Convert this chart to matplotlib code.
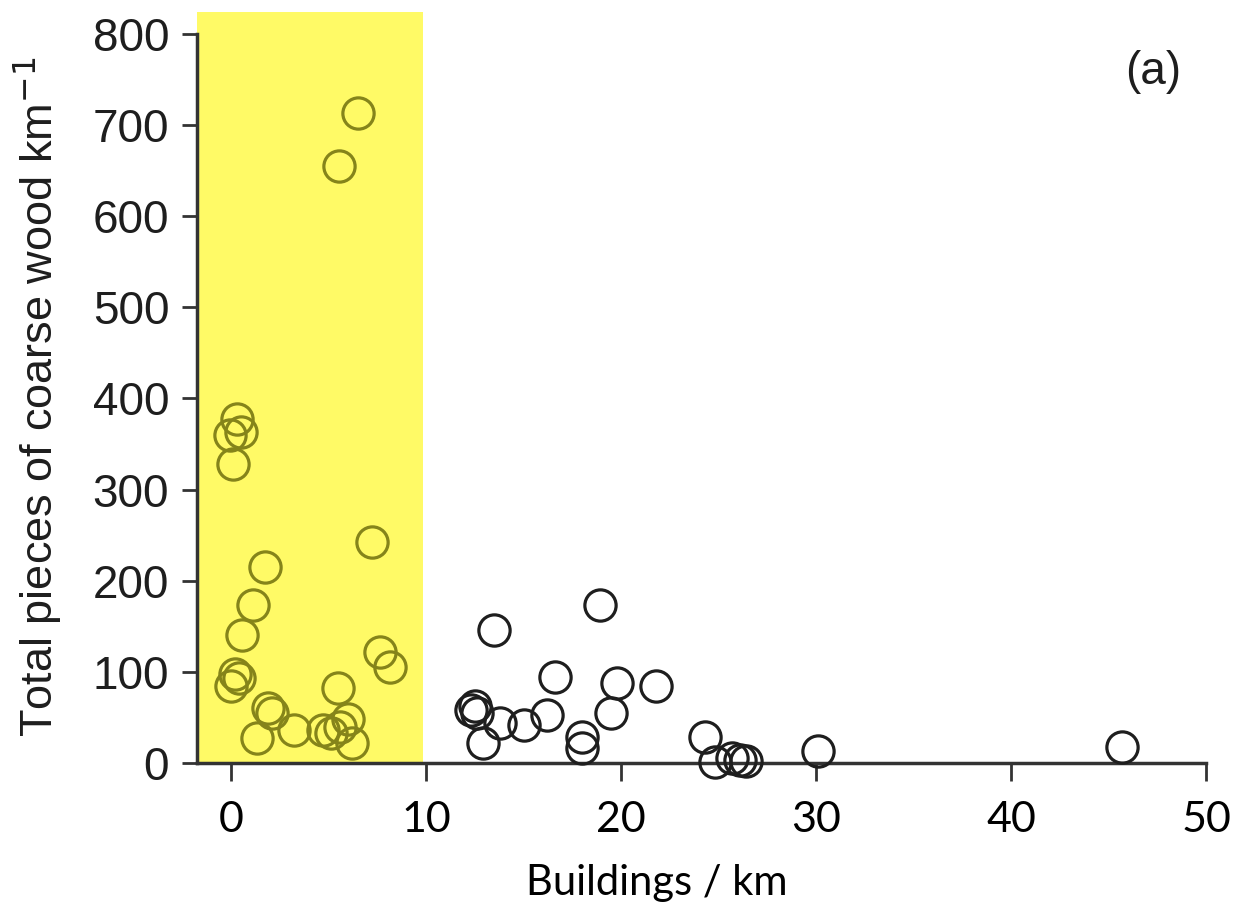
import matplotlib
matplotlib.use("Agg")
import matplotlib.pyplot as plt

# Points inside the highlighted (yellow) band
x_band = [0.3, 0.5, -0.05, 0.1, 6.5, 5.55, 7.25, 1.75, 1.1, 0.55, 0.2, 0.4, 0.0,
          7.65, 8.15, 5.5, 1.9, 2.1, 1.35, 3.2, 4.7, 5.1, 5.6, 6.0, 6.2]
y_band = [377, 363, 360, 328, 713, 655, 243, 215, 173, 140, 98, 93, 84,
          122, 105, 82, 60, 55, 27, 36, 36, 33, 40, 48, 22]

# Points outside the band
x_out = [13.5, 18.9, 16.6, 19.8, 21.8, 19.5, 12.3, 12.5, 12.6, 12.9, 13.8, 15.0,
         16.2, 18.0, 18.0, 24.3, 24.8, 25.7, 26.1, 26.4, 30.1, 45.7]
y_out = [146, 173, 94, 88, 84, 55, 58, 62, 55, 22, 44, 42,
         53, 29, 16, 29, 1, 5, 3, 2, 13, 18]

x_ticks = [0, 10, 20, 30, 40, 50]
y_ticks = [0, 100, 200, 300, 400, 500, 600, 700, 800]
band = (-1.75, 9.85)

fig = plt.figure(figsize=(12.6, 9.06), dpi=100)
ax = fig.add_axes([197/1260, 1-763/906, (1206-197)/1260, (763-12)/906])

ax.axvspan(band[0], band[1], color="#FFFA66", zorder=0, lw=0)

ax.plot(x_band, y_band, linestyle="none", marker="o", markersize=22.5,
        markerfacecolor="none", markeredgecolor="#85841A", markeredgewidth=2.3,
        clip_on=False, zorder=3)
ax.plot(x_out, y_out, linestyle="none", marker="o", markersize=22.5,
        markerfacecolor="none", markeredgecolor="#1E1E1E", markeredgewidth=2.3,
        clip_on=False, zorder=3)

ax.set_xlim(-1.75, 50)
ax.set_ylim(0, 824)
ax.spines["top"].set_visible(False)
ax.spines["right"].set_visible(False)
ax.spines["left"].set_bounds(0, 800)
for s in ("left", "bottom"):
    ax.spines[s].set_linewidth(2.5)
    ax.spines[s].set_color("#333333")
    ax.spines[s].set_zorder(2)

ax.set_xticks(x_ticks)
ax.set_yticks(y_ticks)
ax.set_xticklabels([str(v) for v in x_ticks], fontfamily="Lato", fontsize=31)
ax.set_yticklabels([str(v) for v in y_ticks], fontfamily="Liberation Sans", fontsize=33,
                   color="#1E1E1E")
ax.tick_params(axis="y", direction="out", length=11, width=2.0, color="#333333", pad=9)
ax.tick_params(axis="x", direction="out", length=13, width=2.0, color="#333333", pad=14)

ax.set_xlabel("Buildings / km", fontfamily="Lato", fontsize=30)
ax.xaxis.set_label_coords((657-197)/1009, (763-883)/751, transform=ax.transAxes)
ax.xaxis.label.set_verticalalignment("center")

ax.set_ylabel("Total pieces of coarse wood km$^{-1}$", fontfamily="Liberation Sans",
              fontsize=32.5, color="#1E1E1E")
ax.yaxis.set_label_coords((38-197)/1009, (763-397)/751, transform=ax.transAxes)
ax.yaxis.label.set_verticalalignment("center")

ax.text(47.3, 758, "(a)", fontfamily="Liberation Sans", fontsize=33, color="#1E1E1E",
        ha="center", va="center")

fig.savefig("out.png", dpi=100)
